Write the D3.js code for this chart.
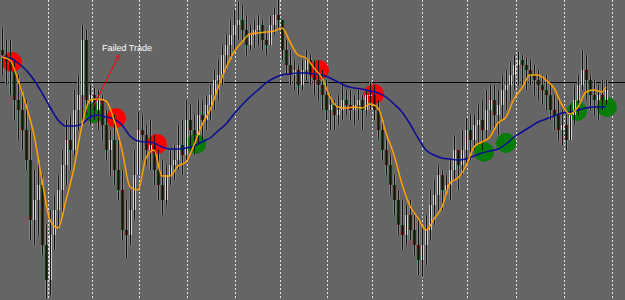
<!DOCTYPE html>
<html>
	<meta charset="utf-8" />
	<style>
		html,
		body,
		svg {
			padding: 0px;
			margin: 0px;
			display: block;
		}
		body {
			background: #656565;
		}
		.grid line {
			stroke: #e6e6e6;
			stroke-width: 1px;
			stroke-dasharray: 2, 2;
		}
		.wick {
			stroke: #111;
			stroke-width: 1px;
		}
		text {
			font-family: "Liberation Sans", Arial, sans-serif;
			font-size: 9px;
			fill: #fff;
		}
	</style>
	<svg width="625" height="300"></svg>
	<script src="https://d3js.org/d3.v7.min.js"></script>
	<script>
		// bar closes, highs, lows (open = previous close)
		var firstOpen = 250;
		var closes = [
			245, 238, 230, 200, 190, 170, 140, 80, 100, 115, 55, 20, 65, 90, 110, 135, 160, 150, 190, 205,
			260, 200, 205, 190, 200, 175, 150, 160, 130, 110, 70, 65, 90, 125, 170, 165, 150, 155, 130, 115,
			100, 125, 135, 140, 155, 145, 180, 170, 165, 185, 180, 195, 205, 220, 225, 245, 255, 265, 275, 280,
			270, 255, 265, 270, 275, 260, 255, 275, 285, 280, 250, 235, 225, 230, 215, 230, 240, 225, 220, 215,
			205, 190, 195, 185, 190, 200, 195, 190, 195, 200, 190, 205, 205, 190, 170, 150, 135, 115, 100, 75,
			65, 85, 70, 55, 40, 55, 70, 95, 105, 125, 110, 115, 130, 150, 135, 150, 170, 160, 175, 180,
			170, 190, 200, 185, 195, 210, 215, 225, 235, 240, 235, 230, 225, 220, 215, 210, 205, 190, 185, 170,
			175, 160, 185, 200, 215, 230, 220, 205, 200, 205, 200, 210
		];
		var highs = [
			272, 260, 260, 240, 225, 210, 200, 170, 130, 140, 125, 75, 90, 105, 125, 150, 180, 185, 210, 225,
			275, 270, 215, 212, 210, 205, 190, 170, 185, 160, 130, 100, 110, 150, 188, 185, 175, 180, 165, 150,
			140, 135, 150, 155, 175, 180, 200, 195, 185, 200, 200, 205, 215, 230, 240, 255, 265, 280, 290, 298,
			295, 285, 275, 280, 285, 280, 270, 285, 292, 300, 280, 260, 250, 240, 235, 240, 250, 245, 240, 240,
			230, 220, 205, 200, 205, 215, 210, 210, 205, 210, 205, 210, 218, 215, 200, 180, 160, 145, 125, 110,
			100, 95, 100, 85, 80, 75, 85, 110, 120, 135, 130, 125, 140, 165, 150, 170, 182, 185, 185, 195,
			200, 210, 215, 215, 210, 225, 230, 238, 245, 248, 245, 242, 240, 235, 230, 225, 225, 215, 205, 200,
			190, 185, 195, 215, 225, 250, 245, 225, 220, 215, 220, 220
		];
		var lows = [
			225, 215, 205, 180, 160, 150, 130, 60, 55, 65, 45, 2, 5, 50, 70, 85, 115, 130, 145, 170,
			175, 185, 175, 180, 170, 160, 140, 125, 115, 100, 60, 42, 55, 80, 125, 140, 135, 130, 115, 100,
			85, 95, 115, 120, 130, 125, 140, 150, 145, 155, 160, 170, 180, 190, 200, 215, 230, 240, 250, 260,
			260, 245, 250, 252, 255, 250, 245, 255, 265, 270, 240, 225, 215, 210, 205, 210, 220, 215, 205, 200,
			190, 180, 170, 170, 175, 180, 185, 180, 175, 180, 170, 185, 190, 180, 160, 140, 125, 105, 85, 65,
			50, 55, 60, 45, 25, 23, 35, 60, 75, 90, 90, 105, 100, 120, 110, 125, 135, 140, 150, 155,
			150, 160, 170, 170, 165, 180, 190, 200, 210, 215, 215, 210, 215, 205, 200, 195, 190, 180, 170, 160,
			155, 150, 160, 175, 185, 210, 200, 190, 185, 180, 190, 195
		];

		// moving averages, one value every 2 bars (last one on the final bar)
		var fastMA = [
			243, 240, 220, 195, 165, 120, 80, 72, 100, 132, 175, 200, 201, 199, 180, 150, 113, 110, 142, 150,
			124, 124, 134, 138, 155, 175, 190, 212, 232, 248, 258, 266, 267, 268, 269, 272, 258, 245, 242, 232,
			222, 203, 193, 192, 193, 192, 196, 192, 167, 145, 116, 94, 82, 70, 81, 93, 117, 122, 134, 153,
			158, 163, 177, 183, 201, 212, 225, 225, 220, 212, 195, 186, 193, 208, 210, 208, 213
		];
		var slowMA = [
			243, 242, 237, 230, 220, 207, 193, 180, 174, 174, 176, 183, 185, 183, 181, 175, 164, 159, 158, 157,
			153, 151, 151, 152, 154, 158, 162, 169, 176, 186, 195, 203, 210, 217, 222, 225, 226, 227, 227, 226,
			225, 222, 218, 214, 212, 211, 209, 207, 203, 196, 188, 176, 162, 150, 145, 142, 141, 140, 141, 144,
			147, 149, 151, 156, 163, 168, 173, 178, 181, 184, 187, 188, 190, 192, 193, 193, 193
		];

		// trade signals: bar position, price, kind
		var signalBars = [2.5, 23, 28.5, 38.75, 48.5, 79.25, 93, 120.5, 126, 143.75, 151.25];
		var signalPrices = [238, 187, 182, 156, 156, 230, 206, 148, 157, 189, 193];
		var signalKinds = ["sell", "buy", "sell", "sell", "buy", "sell", "sell", "buy", "buy", "buy", "buy"];

		var levelPrice = 218;
		var separatorBars = [11.5, 22.5, 34.25, 46.25, 58.25, 69.5, 81.25, 92.5, 105, 116.25, 128.5, 140.5, 152.5];
		var noteText = "Failed Trade";

		var svg = d3.select("svg"),
			width = +svg.attr("width"),
			height = +svg.attr("height");

		var x = d3.scaleLinear().domain([0, 151]).range([2, 606]);
		var y = d3.scaleLinear().domain([0, 300]).range([300, 0]);

		svg.append("rect").attr("width", width).attr("height", height).attr("fill", "#656565");

		svg.append("g")
			.attr("class", "grid")
			.selectAll("line")
			.data(separatorBars)
			.enter()
			.append("line")
			.attr("x1", function (d) {
				return Math.round(x(d)) + 0.5;
			})
			.attr("x2", function (d) {
				return Math.round(x(d)) + 0.5;
			})
			.attr("y1", 0)
			.attr("y2", height);

		svg.append("line")
			.attr("x1", 0)
			.attr("x2", width)
			.attr("y1", Math.round(y(levelPrice)) + 0.5)
			.attr("y2", Math.round(y(levelPrice)) + 0.5)
			.attr("stroke", "#000")
			.attr("stroke-width", 1);

		var bars = closes.map(function (c, i) {
			var o = i ? closes[i - 1] : firstOpen;
			return {
				i: i,
				open: o,
				close: c,
				high: Math.max(highs[i], o, c),
				low: Math.min(lows[i], o, c),
			};
		});

		// faint shadow each side, as in the downscaled screenshot
		svg.append("g")
			.selectAll("rect")
			.data(bars)
			.enter()
			.append("rect")
			.attr("x", function (d) {
				return Math.round(x(d.i)) - 1;
			})
			.attr("y", function (d) {
				return y(d.high);
			})
			.attr("width", 3)
			.attr("height", function (d) {
				return y(d.low) - y(d.high);
			})
			.attr("fill", "#858585");

		var signals = signalBars.map(function (b, i) {
			return { bar: b, price: signalPrices[i], kind: signalKinds[i] };
		});

		svg.append("g")
			.selectAll("circle")
			.data(signals)
			.enter()
			.append("circle")
			.attr("cx", function (d) {
				return x(d.bar);
			})
			.attr("cy", function (d) {
				return y(d.price);
			})
			.attr("r", 10)
			.attr("fill", function (d) {
				return d.kind == "sell" ? "#ff0000" : "#077d07";
			});

		var candle = svg.append("g").selectAll("g").data(bars).enter().append("g");

		candle
			.append("rect")
			.attr("x", function (d) {
				return Math.round(x(d.i)) - 1;
			})
			.attr("y", function (d) {
				return y(Math.max(d.open, d.close));
			})
			.attr("width", 3)
			.attr("height", function (d) {
				return Math.max(1, Math.abs(y(d.open) - y(d.close)));
			})
			.attr("fill", function (d) {
				return d.close >= d.open ? "#d0d0d0" : "#7a0e0e";
			});

		candle
			.append("line")
			.attr("class", "wick")
			.attr("x1", function (d) {
				return Math.round(x(d.i)) + 0.5;
			})
			.attr("x2", function (d) {
				return Math.round(x(d.i)) + 0.5;
			})
			.attr("y1", function (d) {
				return y(d.high);
			})
			.attr("y2", function (d) {
				return y(d.low);
			});

		function maLine(values) {
			return d3
				.line()
				.x(function (d, k) {
					return x(Math.min(k * 2, 151));
				})
				.y(function (d) {
					return y(d);
				})
				.curve(d3.curveMonotoneX)(values);
		}

		svg.append("path").attr("d", maLine(slowMA)).attr("fill", "none").attr("stroke", "#0a0a96").attr("stroke-width", 1.5);
		svg.append("path").attr("d", maLine(fastMA)).attr("fill", "none").attr("stroke", "#ffa000").attr("stroke-width", 1.5);

		// annotation for the failed trade
		svg.append("defs")
			.append("marker")
			.attr("id", "head")
			.attr("viewBox", "0 0 10 10")
			.attr("refX", 9)
			.attr("refY", 5)
			.attr("markerWidth", 5)
			.attr("markerHeight", 5)
			.attr("orient", "auto")
			.append("path")
			.attr("d", "M0,1 L10,5 L0,9")
			.attr("fill", "none")
			.attr("stroke", "#ff0000")
			.attr("stroke-width", 1.5);

		svg.append("line")
			.attr("x1", x(22.75))
			.attr("y1", y(193))
			.attr("x2", x(29.25))
			.attr("y2", y(245))
			.attr("stroke", "#ff0000")
			.attr("stroke-width", 1)
			.attr("marker-end", "url(#head)");

		svg.append("text").attr("x", x(25)).attr("y", y(249)).text(noteText);
	</script>
</html>
